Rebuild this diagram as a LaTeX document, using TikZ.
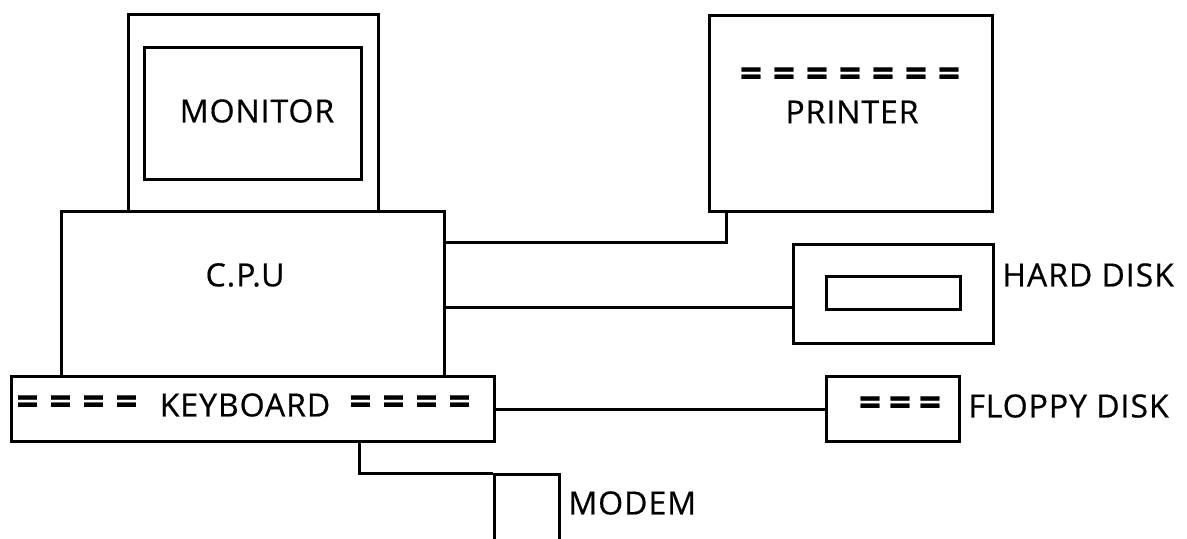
\documentclass[tikz,border=0pt]{standalone}
\usepackage{fontspec}
\setmainfont{Open Sans}[LetterSpace=3, FakeBold=0.5]
\usetikzlibrary{positioning}
\tikzset{
  unit/.style={draw, line width=1.5pt, inner sep=0pt, anchor=north west},
  wire/.style={line width=1.5pt},
  tag/.style={font=\fontsize{16}{18}\selectfont, inner sep=0pt},
}
\newcommand{\eq}[1][16.5pt]{\makebox[#1]{\scalebox{1.2}[1.2]{\bfseries=}}}

\begin{document}
\begin{tikzpicture}[x=0.5pt, y=-0.5pt]
  \useasboundingbox (0,0) rectangle (1187,539);
  % computer
  \node[unit, minimum width=125pt, minimum height=98.5pt] (monitor) at (127,13) {};
  \node[unit, minimum width=108.5pt, minimum height=66pt] (screen) at (143,46) {};
  \node[tag] (monitortxt) at (257,111) {MONITOR};
  \node[unit, minimum width=191.5pt, minimum height=82.5pt] (cpu) at (60,210) {};
  \node[tag] (cputxt) at (245,275) {C.P.U};
  \node[unit, minimum width=241.5pt, minimum height=32.5pt] (keyboard) at (10,375) {};
  \node[tag] (kbbarsleft) at (77,405) {\eq\eq\eq\eq};
  \node[tag] (keyboardtxt) at (245,405) {KEYBOARD};
  \node[tag] (kbbarsright) at (410,405) {\eq\eq\eq\eq};
  % peripherals
  \node[unit, minimum width=141.5pt, minimum height=98pt] (printer) at (708,14) {};
  \node[tag] (printerbars) at (850,77) {\eq\eq\eq\eq\eq\eq\eq};
  \node[tag] (printertxt) at (852,112) {PRINTER};
  \node[unit, minimum width=100pt, minimum height=49.5pt] (harddisk) at (792,243) {};
  \node[unit, minimum width=67pt, minimum height=16.5pt] (platter) at (825,275) {};
  \node[tag, anchor=west] (harddisktxt) at (1002,275) {HARD DISK};
  \node[unit, minimum width=66.5pt, minimum height=32.5pt] (floppy) at (825,375) {};
  \node[tag] (floppybars) at (900,406) {\eq[15pt]\eq[15pt]\eq[15pt]};
  \node[tag, anchor=west] (floppytxt) at (968,406) {FLOPPY DISK};
  \node[unit, minimum width=32.5pt, minimum height=40pt] (modem) at (493,473) {};
  \node[tag, anchor=west] (modemtxt) at (568,503) {MODEM};
  % ports
  \coordinate (printerport) at (726,210);
  \coordinate (hdport) at (792,308);
  \coordinate (kbport) at (359,440);
  % cables
  \draw[wire] (printerport) |- (printerport |- 0,243) -- (printerport |- 0,243 -| cpu.east);
  \draw[wire] (hdport) -- (hdport -| cpu.east);
  \draw[wire] (keyboard.east) -- (floppy.west);
  \draw[wire] (kbport) |- (modem.north west);
\end{tikzpicture}
\end{document}
